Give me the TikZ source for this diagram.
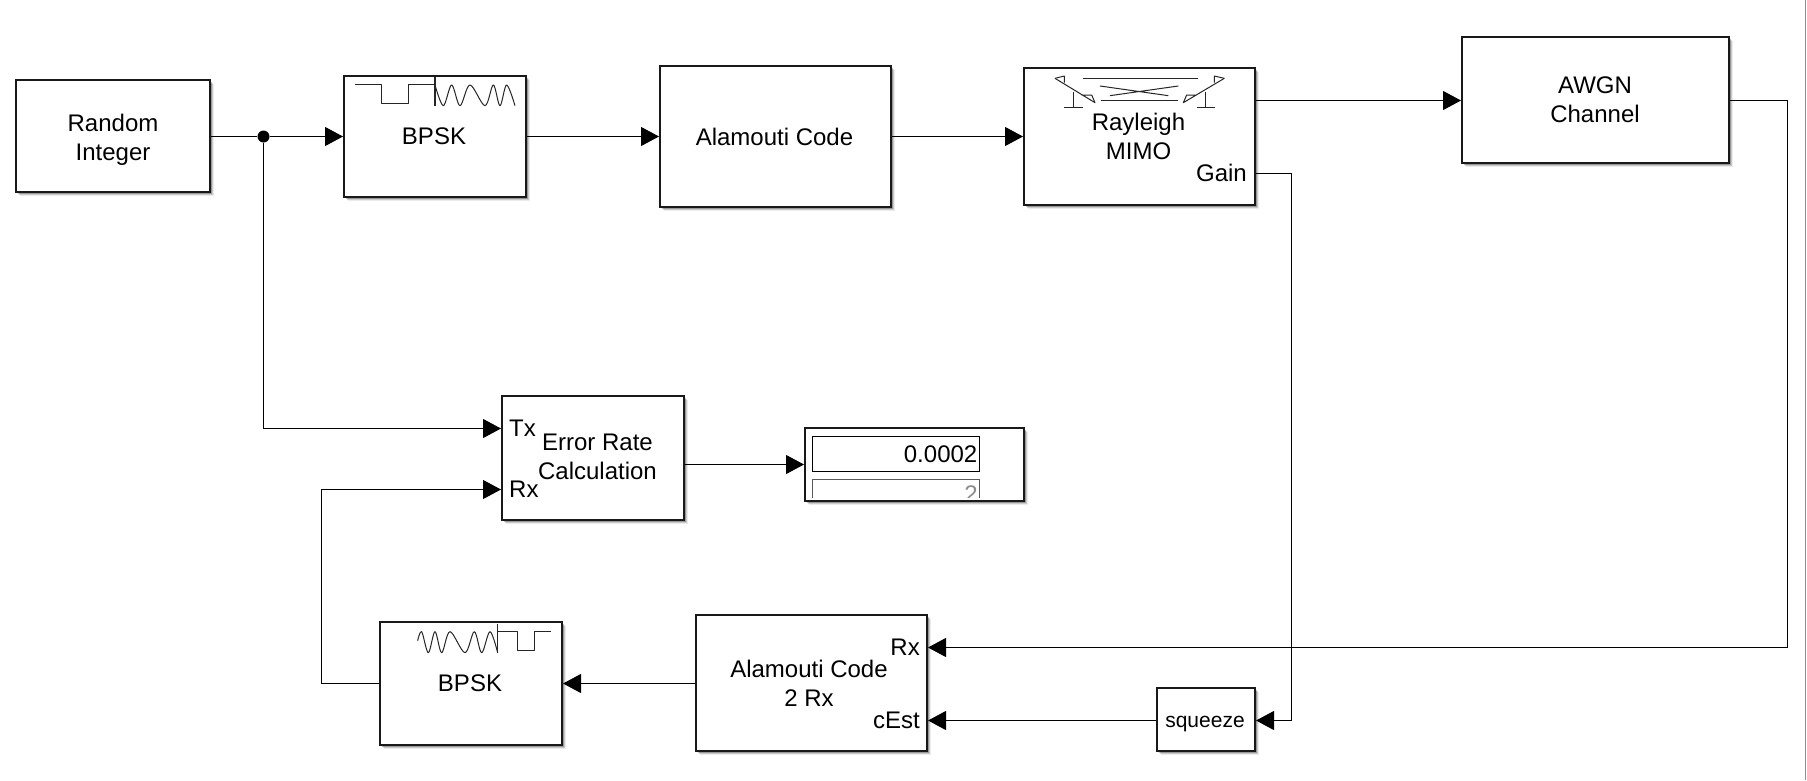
\documentclass[tikz,border=0pt]{standalone}
\usepackage{fontspec}
\setmainfont{Liberation Sans}
\usetikzlibrary{arrows.meta,shadows}
\tikzset{
  blockbox/.style={draw=black!90,fill=white,line width=2pt,inner sep=0pt,align=center,
    font=\fontsize{24}{29}\selectfont,
    general shadow={shadow xshift=4pt,shadow yshift=-4pt,fill=black,opacity=.08},
    general shadow={shadow xshift=3pt,shadow yshift=-3pt,fill=black,opacity=.14},
    general shadow={shadow xshift=2pt,shadow yshift=-2pt,fill=black,opacity=.25}},
  txt/.style={inner sep=0pt,align=center,font=\fontsize{24}{29}\selectfont},
  wire/.style={draw=black,line width=1pt,-{Triangle[length=18pt,width=19pt]}},
  bare/.style={draw=black,line width=1pt},
  icon/.style={draw=black!85,line width=1pt,line join=round},
  dotnode/.style={circle,fill=black,inner sep=0pt,minimum size=12pt}
}
\begin{document}
\begin{tikzpicture}[x=1pt,y=-1pt]
\useasboundingbox (0,0) rectangle (1807,780);
% blocks
\node[blockbox,minimum width=194pt,minimum height=112pt] (rand) at (113,136) {};
\node[blockbox,minimum width=182pt,minimum height=121pt] (bpsk1) at (435,136.5) {};
\node[blockbox,minimum width=231pt,minimum height=141pt] (ala) at (775.5,136.5) {};
\node[blockbox,minimum width=231pt,minimum height=137pt] (ray) at (1139.5,136.5) {};
\node[blockbox,minimum width=267pt,minimum height=126pt] (awgn) at (1595.5,100) {};
\node[blockbox,minimum width=182pt,minimum height=124pt] (err) at (593,458) {};
\node[blockbox,minimum width=219pt,minimum height=73pt] (disp) at (914.5,464.5) {};
\node[blockbox,minimum width=231pt,minimum height=136pt] (ala2) at (811.5,683) {};
\node[blockbox,minimum width=182pt,minimum height=123pt] (bpsk2) at (471,683.5) {};
\node[blockbox,minimum width=98pt,minimum height=63pt] (sq) at (1206,719.5) {};
% block texts with their own positions
\node[txt] (randtxt) at (113,140.2) {Random\\Integer};
\node[txt] (bpsk1txt) at (434,136.5) {BPSK};
\node[txt] (alatxt1) at (774.5,136.5) {Alamouti Code};
\node[txt] (raytxt) at (1138.5,136.5) {Rayleigh\\MIMO};
\node[txt] (awgntxt) at (1595,99.5) {AWGN\\Channel};
\node[txt] (bpsk2txt) at (470,683.5) {BPSK};
\node[txt,font=\fontsize{21}{24}\selectfont] (sqtxt) at (1205,724) {squeeze};
\node[txt] (errtxt) at (597.5,457) {Error Rate\\Calculation};
\node[txt,anchor=west] (errtx) at (509,428) {Tx};
\node[txt,anchor=west] (errrx) at (509,489) {Rx};
\node[txt] (alatxt) at (809,683.5) {Alamouti Code\\2 Rx};
\node[txt,anchor=east] (alarx) at (920,647.5) {Rx};
\node[txt,anchor=east] (alace) at (920,720) {cEst};
\node[txt,anchor=east] (gain) at (1247,173) {Gain};
% display block
\node[draw=black,line width=1pt,minimum width=167pt,minimum height=35pt,inner sep=0pt] (dbox) at (896,454) {};
\node[txt,anchor=east] (dval) at (977.5,454) {0.0002};
\draw[draw=black!65,line width=1pt] (812.5,498) -- (812.5,479.5) -- (979.5,479.5) -- (979.5,498);
\begin{scope}
  \clip (813,480) rectangle (979,497.5);
  \node[txt,anchor=north east,text=black!45] (dval2) at (978,486) {2};
\end{scope}
% junction and bends
\node[dotnode] (junc) at (263.5,136.5) {};
\coordinate (awgnR) at (1787.5,100.5);
\coordinate (awgnB) at (1787.5,647.5);
\coordinate (gainR) at (1291.5,173.5);
\coordinate (gainB) at (1291.5,720.5);
\coordinate (rxB) at (321.5,683.5);
\coordinate (rxT) at (321.5,489.5);
\coordinate (txB) at (263.5,428.5);
\coordinate (errO) at (700,464.5);
% connectors
\draw[bare] (rand.east |- junc) -- (junc);
\draw[wire] (junc) -- (bpsk1.west);
\draw[wire] (bpsk1.east) -- (ala.west);
\draw[wire] (ala.east) -- (ray.west);
\draw[wire] (ray.east |- awgnR) -- (awgn.west |- awgnR);
\draw[wire] (awgn.east |- awgnR) -- (awgnR) -- (awgnB) -- (ala2.east |- awgnB);
\draw[wire] (ray.east |- gainR) -- (gainR) -- (gainB) -- (sq.east |- gainB);
\draw[wire] (sq.west |- gainB) -- (ala2.east |- gainB);
\draw[wire] (ala2.west |- bpsk2.east) -- (bpsk2.east);
\draw[wire] (bpsk2.west) -- (rxB) -- (rxT) -- (err.west |- rxT);
\draw[wire] (junc) -- (txB) -- (err.west |- txB);
\draw[wire] (err.east |- errO) -- (disp.west |- errO);
% BPSK modulator icon
\begin{scope}[shift={(330,60)},x=.3333pt,y=-.3333pt]
  \draw[icon] (75,73) -- (155,73) -- (155,131) -- (235,131) -- (235,73) -- (315,73);
  \draw[icon,line width=1.3pt] (315,50) -- (315,137);
  \draw[icon] plot[smooth,tension=.55] coordinates {(315,75) (340,137) (365,75) (390,137) (420,75) (465,137) (490,75) (510,137) (530,75) (555,137)};
\end{scope}
% BPSK demodulator icon
\begin{scope}[shift={(370,610)},x=.3333pt,y=-.3333pt]
  \draw[icon] plot[smooth,tension=.55] coordinates {(143,92) (155,65) (175,128) (195,65) (215,128) (240,65) (285,128) (313,65) (335,128) (360,65) (383,128)};
  \draw[icon,line width=1.3pt] (383,42) -- (383,130);
  \draw[icon] (385,65) -- (442,65) -- (442,122) -- (493,122) -- (493,65) -- (543,65);
\end{scope}
% Rayleigh MIMO icon
\begin{scope}[shift={(1010,55)},x=.3333pt,y=-.3333pt]
  \draw[icon] (135,70) -- (255,143) -- (245,120) -- (215,120);
  \draw[icon] (135,70) -- (163,63) -- (163,83);
  \draw[icon] (190,110) -- (190,158) (163,158) -- (220,158);
  \draw[icon] (643,70) -- (520,143) -- (530,120) -- (560,120);
  \draw[icon] (643,70) -- (613,63) -- (613,83);
  \draw[icon] (587,110) -- (587,158) (562,158) -- (615,158);
  \draw[icon] (220,71) -- (563,71) (272,137) -- (505,137);
  \draw[icon] (270,93) -- (475,122) (505,93) -- (300,122);
\end{scope}
% screenshot edge at the right
\draw[draw=black!45,line width=1.5pt] (1805.5,0) -- (1805.5,780);
\end{tikzpicture}
\end{document}
